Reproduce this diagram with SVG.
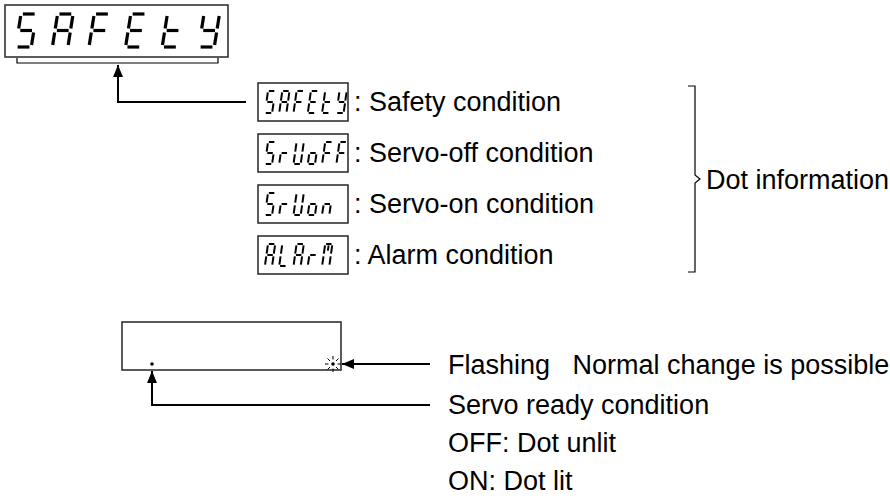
<svg xmlns="http://www.w3.org/2000/svg" xmlns:xlink="http://www.w3.org/1999/xlink" width="890" height="502" viewBox="0 0 890 502">
<style>
.box{fill:#fff;stroke:#333;stroke-width:1.6}
defs line{vector-effect:non-scaling-stroke}
.seg{stroke:#000;stroke-width:2;fill:none}
.big{stroke-width:3.2}
.t{font-family:"Liberation Sans",Arial,sans-serif;font-size:27px;fill:#000;white-space:pre}
.ln{stroke:#000;stroke-width:2;fill:none}
.thin{stroke:#000;stroke-width:1.2;fill:none}
</style>
<defs>
<marker id="ah" viewBox="0 0 12 10" refX="12" refY="5" markerWidth="12" markerHeight="10" markerUnits="userSpaceOnUse" orient="auto">
<path d="M0,0 L12,5 L0,10 Z" fill="#000"/>
</marker>
<g id="cS"><line x1="1.2" y1="0" x2="8.8" y2="0"/><line x1="0" y1="1.2" x2="0" y2="8.8"/><line x1="1.2" y1="10" x2="8.8" y2="10"/><line x1="10" y1="11.2" x2="10" y2="18.8"/><line x1="1.2" y1="20" x2="8.8" y2="20"/></g>
<g id="cA"><line x1="1.2" y1="0" x2="8.8" y2="0"/><line x1="10" y1="1.2" x2="10" y2="8.8"/><line x1="10" y1="11.2" x2="10" y2="18.8"/><line x1="0" y1="11.2" x2="0" y2="18.8"/><line x1="0" y1="1.2" x2="0" y2="8.8"/><line x1="1.2" y1="10" x2="8.8" y2="10"/></g>
<g id="cF"><line x1="1.2" y1="0" x2="8.8" y2="0"/><line x1="0" y1="1.2" x2="0" y2="8.8"/><line x1="1.2" y1="10" x2="8.8" y2="10"/><line x1="0" y1="11.2" x2="0" y2="18.8"/></g>
<g id="cE"><line x1="1.2" y1="0" x2="8.8" y2="0"/><line x1="0" y1="1.2" x2="0" y2="8.8"/><line x1="1.2" y1="10" x2="8.8" y2="10"/><line x1="0" y1="11.2" x2="0" y2="18.8"/><line x1="1.2" y1="20" x2="8.8" y2="20"/></g>
<g id="ct"><line x1="0" y1="1.2" x2="0" y2="8.8"/><line x1="1.2" y1="10" x2="8.8" y2="10"/><line x1="0" y1="11.2" x2="0" y2="18.8"/><line x1="1.2" y1="20" x2="8.8" y2="20"/></g>
<g id="cY"><line x1="0" y1="1.2" x2="0" y2="8.8"/><line x1="10" y1="1.2" x2="10" y2="8.8"/><line x1="1.2" y1="10" x2="8.8" y2="10"/><line x1="10" y1="11.2" x2="10" y2="18.8"/><line x1="1.2" y1="20" x2="8.8" y2="20"/></g>
<g id="cr"><line x1="1.2" y1="10" x2="8.8" y2="10"/><line x1="0" y1="11.2" x2="0" y2="18.8"/></g>
<g id="cU"><line x1="0" y1="1.2" x2="0" y2="8.8"/><line x1="10" y1="1.2" x2="10" y2="8.8"/><line x1="0" y1="11.2" x2="0" y2="18.8"/><line x1="10" y1="11.2" x2="10" y2="18.8"/><line x1="1.2" y1="20" x2="8.8" y2="20"/></g>
<g id="co"><line x1="1.2" y1="10" x2="8.8" y2="10"/><line x1="0" y1="11.2" x2="0" y2="18.8"/><line x1="10" y1="11.2" x2="10" y2="18.8"/><line x1="1.2" y1="20" x2="8.8" y2="20"/></g>
<g id="cn"><line x1="1.2" y1="10" x2="8.8" y2="10"/><line x1="0" y1="11.2" x2="0" y2="18.8"/><line x1="10" y1="11.2" x2="10" y2="18.8"/></g>
<g id="cL"><line x1="0" y1="1.2" x2="0" y2="8.8"/><line x1="0" y1="11.2" x2="0" y2="18.8"/><line x1="1.2" y1="20" x2="8.8" y2="20"/></g>
<g id="cM"><line x1="1.2" y1="0" x2="8.8" y2="0"/><line x1="0" y1="1.2" x2="0" y2="8.8"/><line x1="10" y1="1.2" x2="10" y2="8.8"/><line x1="0" y1="11.2" x2="0" y2="18.8"/><line x1="10" y1="11.2" x2="10" y2="18.8"/><line x1="5" y1="1.2" x2="5" y2="6"/></g>
</defs>

<g id="main-display">
<rect class="box" x="5" y="5" width="223" height="52"/>
<g class="seg big">
<use xlink:href="#cS" transform="translate(21,14) skewX(-9) scale(1.55,1.65)"/>
<use xlink:href="#cA" transform="translate(57.6,14) skewX(-9) scale(1.55,1.65)"/>
<use xlink:href="#cF" transform="translate(94.2,14) skewX(-9) scale(1.55,1.65)"/>
<use xlink:href="#cE" transform="translate(130.8,14) skewX(-9) scale(1.55,1.65)"/>
<use xlink:href="#ct" transform="translate(167.4,14) skewX(-9) scale(1.55,1.65)"/>
<use xlink:href="#cY" transform="translate(204,14) skewX(-9) scale(1.55,1.65)"/>
</g>
<path class="thin" d="M17,58 V63 H218 V58"/>
</g>

<g id="safety">
<rect class="box" x="258" y="83" width="90" height="38"/>
<g class="seg">
<use xlink:href="#cS" transform="translate(268,91) skewX(-8) scale(0.72,1.1)"/>
<use xlink:href="#cA" transform="translate(282.3,91) skewX(-8) scale(0.72,1.1)"/>
<use xlink:href="#cF" transform="translate(296.6,91) skewX(-8) scale(0.72,1.1)"/>
<use xlink:href="#cE" transform="translate(310.9,91) skewX(-8) scale(0.72,1.1)"/>
<use xlink:href="#ct" transform="translate(325.2,91) skewX(-8) scale(0.72,1.1)"/>
<use xlink:href="#cY" transform="translate(339.5,91) skewX(-8) scale(0.72,1.1)"/>
</g>
<text class="t" x="354" y="111">: Safety condition</text>
</g>

<g id="servo-off">
<rect class="box" x="258" y="134" width="90" height="38"/>
<g class="seg">
<use xlink:href="#cS" transform="translate(268,142) skewX(-8) scale(0.72,1.1)"/>
<use xlink:href="#cr" transform="translate(282.3,142) skewX(-8) scale(0.72,1.1)"/>
<use xlink:href="#cU" transform="translate(296.6,142) skewX(-8) scale(0.72,1.1)"/>
<use xlink:href="#co" transform="translate(310.9,142) skewX(-8) scale(0.72,1.1)"/>
<use xlink:href="#cF" transform="translate(325.2,142) skewX(-8) scale(0.72,1.1)"/>
<use xlink:href="#cF" transform="translate(339.5,142) skewX(-8) scale(0.72,1.1)"/>
</g>
<text class="t" x="354" y="162">: Servo-off condition</text>
</g>

<g id="servo-on">
<rect class="box" x="258" y="185" width="90" height="38"/>
<g class="seg">
<use xlink:href="#cS" transform="translate(268,193) skewX(-8) scale(0.72,1.1)"/>
<use xlink:href="#cr" transform="translate(282.3,193) skewX(-8) scale(0.72,1.1)"/>
<use xlink:href="#cU" transform="translate(296.6,193) skewX(-8) scale(0.72,1.1)"/>
<use xlink:href="#co" transform="translate(310.9,193) skewX(-8) scale(0.72,1.1)"/>
<use xlink:href="#cn" transform="translate(325.2,193) skewX(-8) scale(0.72,1.1)"/>
</g>
<text class="t" x="354" y="213">: Servo-on condition</text>
</g>

<g id="alarm">
<rect class="box" x="258" y="236" width="90" height="38"/>
<g class="seg">
<use xlink:href="#cA" transform="translate(268,244) skewX(-8) scale(0.72,1.1)"/>
<use xlink:href="#cL" transform="translate(282.3,244) skewX(-8) scale(0.72,1.1)"/>
<use xlink:href="#cA" transform="translate(296.6,244) skewX(-8) scale(0.72,1.1)"/>
<use xlink:href="#cr" transform="translate(310.9,244) skewX(-8) scale(0.72,1.1)"/>
<use xlink:href="#cM" transform="translate(325.2,244) skewX(-8) scale(0.72,1.1)"/>
</g>
<text class="t" x="354" y="264">: Alarm condition</text>
</g>

<g id="dot-information">
<path class="thin" d="M688,86 H695 V175 L700,179 L695,183 V272 H688"/>
<text class="t" x="706" y="189">Dot information</text>
</g>

<g id="dot-display">
<rect class="box" x="122" y="322" width="219" height="48"/>
<circle cx="152" cy="364" r="1.8" fill="#000"/>
<g stroke="#000" stroke-width="1">
<circle cx="333" cy="364" r="1.8" fill="#000" stroke="none"/>
<line x1="333" y1="356" x2="333" y2="359.5"/><line x1="333" y1="368.5" x2="333" y2="372"/>
<line x1="325" y1="364" x2="328.5" y2="364"/><line x1="337.5" y1="364" x2="341" y2="364"/>
<line x1="327.5" y1="358.5" x2="330" y2="361"/><line x1="336" y1="367" x2="338.5" y2="369.5"/>
<line x1="327.5" y1="369.5" x2="330" y2="367"/><line x1="336" y1="361" x2="338.5" y2="358.5"/>
</g>
</g>

<g id="notes">
<text class="t" x="448" y="374" xml:space="preserve">Flashing   Normal change is possible</text>
<text class="t" x="448" y="414">Servo ready condition</text>
<text class="t" x="448" y="452">OFF: Dot unlit</text>
<text class="t" x="448" y="490">ON: Dot lit</text>
</g>

<g id="connectors">
<path class="ln" d="M246,102 H118 V65" marker-end="url(#ah)"/>
<path class="ln" d="M430,364 H342" marker-end="url(#ah)"/>
<path class="ln" d="M430,405 H152 V371" marker-end="url(#ah)"/>
</g>
</svg>
